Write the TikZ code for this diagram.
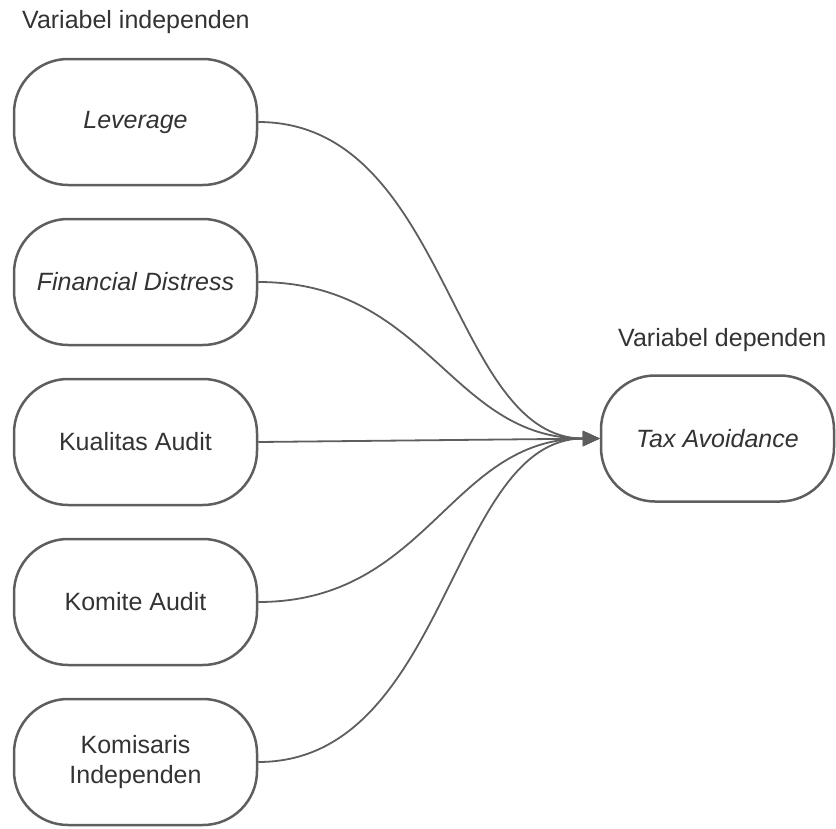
\documentclass[tikz,border=0pt]{standalone}
\usepackage{fontspec}
\setmainfont{Liberation Sans}
\usetikzlibrary{arrows.meta}
\definecolor{linegray}{HTML}{5E5E5E}
\definecolor{textgray}{HTML}{333333}
\begin{document}
\begin{tikzpicture}[x=1pt,y=-1pt,
  varbox/.style={draw=linegray, line width=2.5pt, rounded corners=54pt, fill=white,
    minimum width=243pt, minimum height=126pt, inner sep=0pt, align=center,
    text=textgray, font=\fontsize{25}{30}\selectfont},
  conn/.style={draw=linegray, line width=1.8pt, -{Triangle[length=17pt,width=15pt]}},
  lbl/.style={text=textgray, font=\fontsize{25}{30}\selectfont, inner sep=0pt, anchor=west}
]
\useasboundingbox (0,0) rectangle (836,828);
\node[lbl] (lindep) at (22,22) {Variabel independen};
\node[lbl] (ldep) at (618,340) {Variabel dependen};

\node[varbox] (lev) at (135.5,122) {\itshape Leverage};
\node[varbox] (fin) at (135.5,282) {\itshape Financial Distress};
\node[varbox] (kua) at (135.5,442) {Kualitas Audit};
\node[varbox] (kom) at (135.5,602) {Komite Audit};
\node[varbox] (kis) at (135.5,762) {Komisaris\\Independen};
\node[varbox, minimum width=233pt] (tax) at (717.5,438.5) {\itshape Tax Avoidance};

\draw[conn] (lev.east) .. controls +(190,0) and +(-150,0) .. (tax.west);
\draw[conn] (fin.east) .. controls +(170,0) and +(-150,0) .. (tax.west);
\draw[conn] (kua.east) -- (tax.west);
\draw[conn] (kom.east) .. controls +(170,0) and +(-150,0) .. (tax.west);
\draw[conn] (kis.east) .. controls +(190,0) and +(-150,0) .. (tax.west);
\end{tikzpicture}
\end{document}
